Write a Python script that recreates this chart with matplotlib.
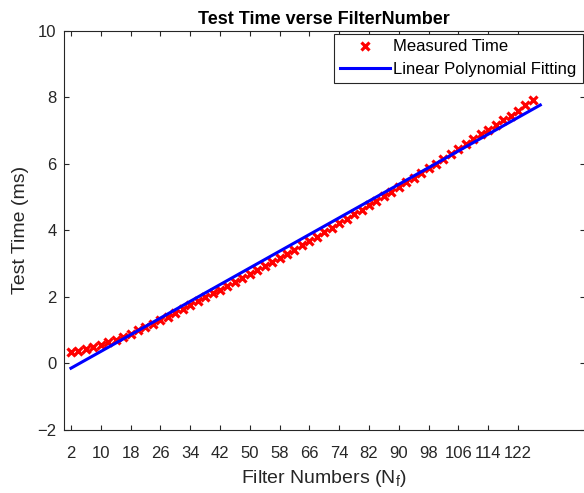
import numpy as np
import matplotlib
matplotlib.use("Agg")
import matplotlib.pyplot as plt

# ---- data ----
filter_numbers = list(range(2, 127, 2))
measured_time = [
    0.32, 0.35, 0.41, 0.47, 0.55, 0.63, 0.71, 0.80, 0.89, 0.99,
    1.08, 1.19, 1.30, 1.40, 1.52, 1.63, 1.75, 1.86, 1.98, 2.10,
    2.21, 2.33, 2.44, 2.57, 2.69, 2.80, 2.93, 3.04, 3.17, 3.29,
    3.42, 3.55, 3.68, 3.81, 3.94, 4.07, 4.21, 4.34, 4.48, 4.61,
    4.75, 4.88, 5.02, 5.16, 5.30, 5.44, 5.58, 5.72, 5.86, 6.01,
    6.16, 6.30, 6.45, 6.59, 6.74, 6.89, 7.03, 7.18, 7.32, 7.45,
    7.59, 7.76, 7.93,
]
fit_coef = [0.0629, -0.28]          # slope, intercept
fit_range = [2, 128]
x_ticks = list(range(2, 123, 8))
y_ticks = [-2, 0, 2, 4, 6, 8, 10]

plt.rcParams['font.family'] = ['Liberation Sans', 'DejaVu Sans']
plt.rcParams['mathtext.fontset'] = 'custom'
plt.rcParams['mathtext.rm'] = 'Liberation Sans'

dark = (0.15, 0.15, 0.15)

fig = plt.figure(figsize=(5.84, 4.93), dpi=100)
W, H = 584, 493
left, right, top, bottom = 63.5, 585.0, 31.0, 429.5
ax = fig.add_axes([left / W, 1 - bottom / H, (right - left) / W, (bottom - top) / H])

ax.plot(filter_numbers, measured_time, linestyle='none', marker='x',
        color='red', markersize=6, markeredgewidth=2.3, label='Measured Time')
fx = np.array(fit_range, dtype=float)
fy = np.polyval(fit_coef, fx)
ax.plot(fx, fy, color=(0, 0, 1), linewidth=2.2, label='Linear Polynomial Fitting')

ax.set_xlim(0, 140)
ax.set_ylim(-2, 10)
ax.set_xticks(x_ticks)
ax.set_yticks(y_ticks)
ax.tick_params(direction='in', length=3.5, width=0.8, top=True, right=True,
               labelsize=12, colors=dark, labelcolor=dark)
ax.tick_params(axis='x', pad=12)
ax.tick_params(axis='y', pad=5)
for s in ax.spines.values():
    s.set_color(dark)
    s.set_linewidth(0.8)

ax.set_title('Test Time verse FilterNumber', fontsize=13, fontweight='bold',
             color='black', pad=5)
ax.set_xlabel('Filter Numbers (N$_\\mathregular{f}$)', fontsize=14, color=dark, labelpad=5)
ax.set_ylabel('Test Time (ms)', fontsize=14, color=dark, labelpad=6)

leg = ax.legend(loc='upper right', fontsize=12, frameon=True, fancybox=False,
                framealpha=1, edgecolor=dark, handlelength=3.0, handletextpad=0.2,
                borderaxespad=0.15, borderpad=0.35, labelspacing=0.45)
leg.get_frame().set_linewidth(0.8)

fig.savefig('out.png', dpi=100)
